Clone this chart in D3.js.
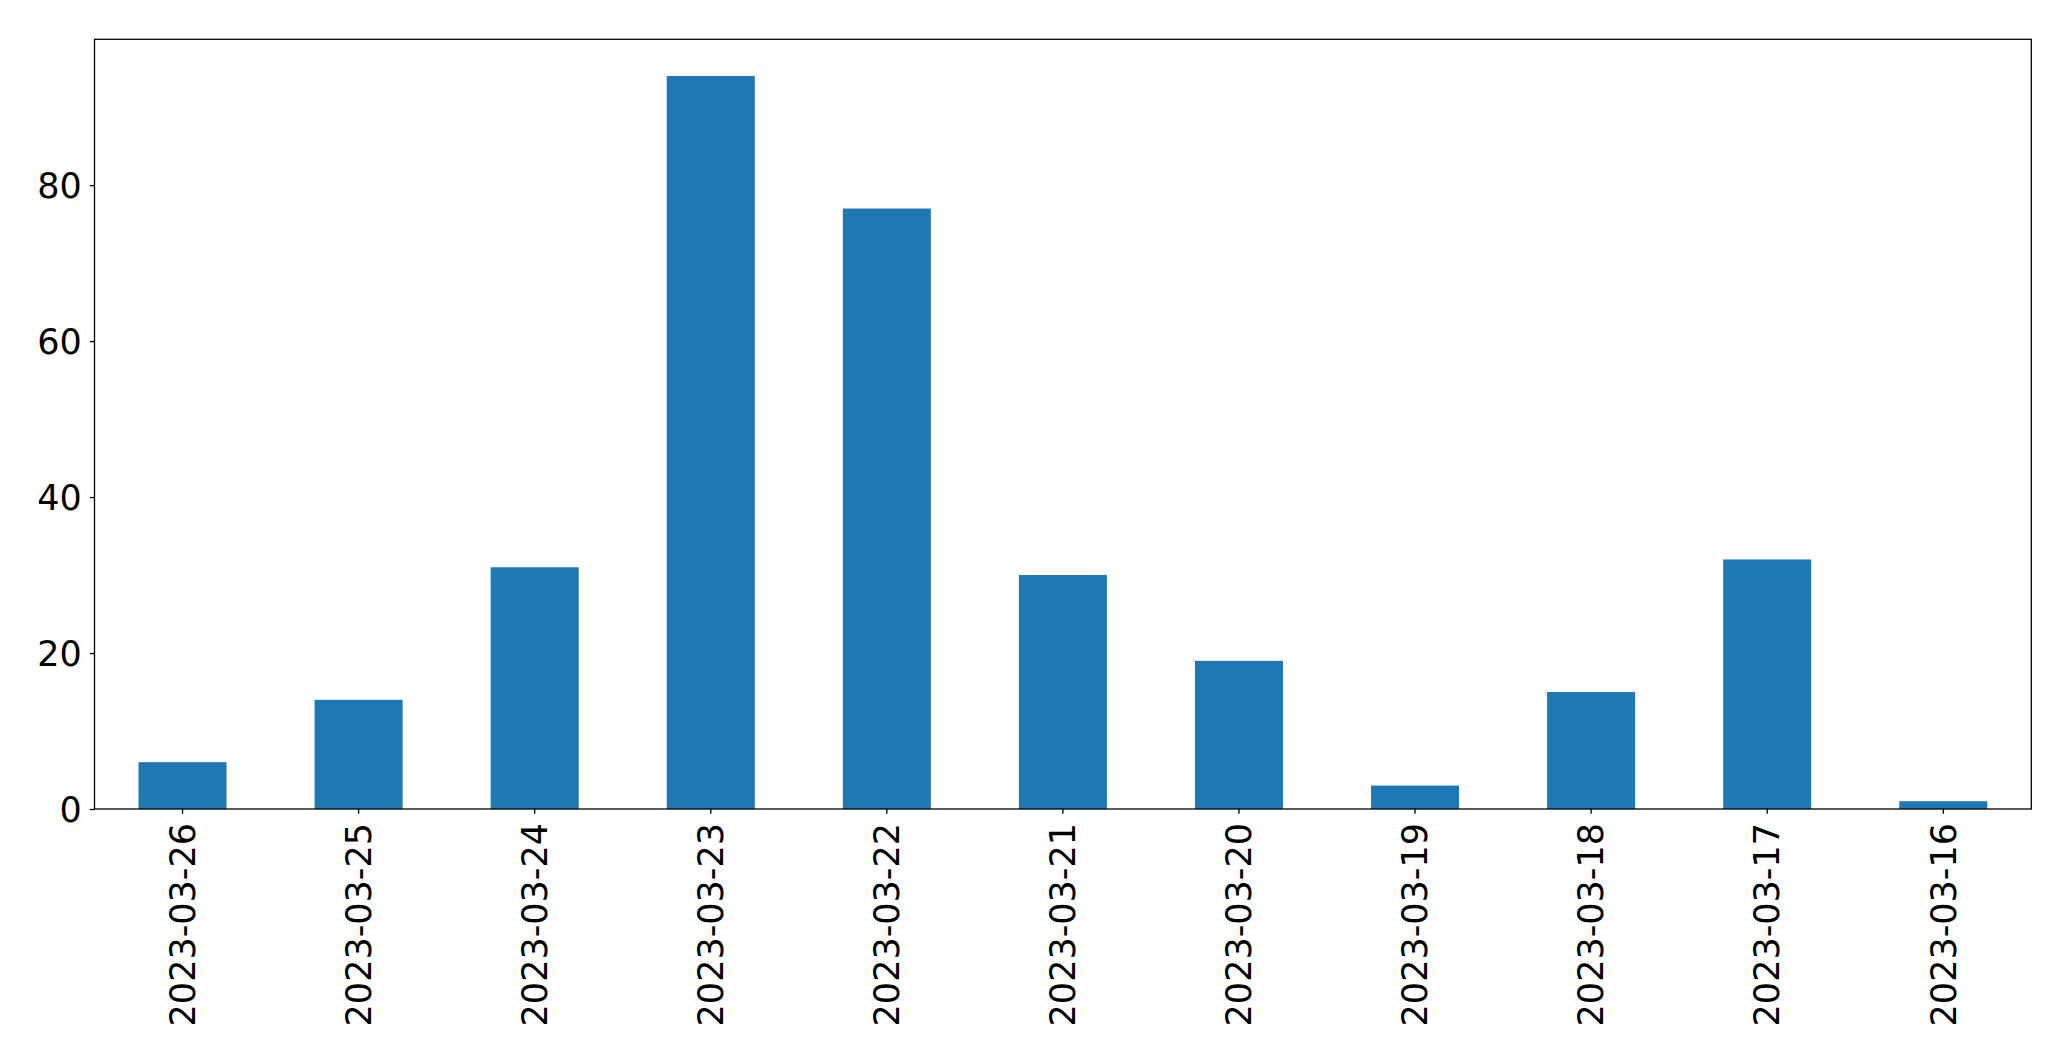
<!DOCTYPE html>
<html><head><meta charset="utf-8">
<script src="https://cdn.jsdelivr.net/npm/d3@7"></script>
<style>html,body{margin:0;padding:0;background:#fff;overflow:hidden}</style>
</head><body>
<svg id="chart" width="2071" height="1061"></svg>
<script>
const categories = ["2023-03-26","2023-03-25","2023-03-24","2023-03-23","2023-03-22","2023-03-21","2023-03-20","2023-03-19","2023-03-18","2023-03-17","2023-03-16"];
const values = [6, 14, 31, 94, 77, 30, 19, 3, 15, 32, 1];
const yTicks = [0, 20, 40, 60, 80];

const margin = {left: 94.5, right: 2071 - 2031.3, top: 39.3, bottom: 1061 - 809};
const W = 2071, H = 1061;
const svg = d3.select("#chart");
const g = svg.append("g").attr("transform", `translate(${margin.left},${margin.top})`);
const iw = W - margin.left - margin.right, ih = H - margin.top - margin.bottom;

const x = d3.scaleBand().domain(categories).range([0, iw]).paddingInner(0.5).paddingOuter(0.25);
const y = d3.scaleLinear().domain([0, d3.max(values) * 1.05]).range([ih, 0]);

g.selectAll("rect.bar").data(values).join("rect")
  .attr("class","bar")
  .attr("x", (d,i) => x(categories[i]))
  .attr("width", x.bandwidth())
  .attr("y", d => y(d))
  .attr("height", d => y(0) - y(d))
  .attr("fill", "#1f77b4");

const font = "DejaVu Sans, sans-serif";
const yAxis = g.append("g").call(d3.axisLeft(y).tickValues(yTicks).tickSize(4.7).tickPadding(8).tickFormat(d3.format("d")));
yAxis.select(".domain").remove();
yAxis.selectAll("text").attr("font-family", font).attr("font-size", 35).attr("fill", "#000").attr("dy", "0.36em");
yAxis.selectAll("line").attr("stroke", "#000").attr("stroke-width", 1.3);

const xAxis = g.append("g").attr("transform", `translate(0,${ih})`).call(d3.axisBottom(x).tickSize(4.7).tickPadding(0));
xAxis.select(".domain").remove();
xAxis.selectAll("line").attr("stroke", "#000").attr("stroke-width", 1.3);
xAxis.selectAll("text")
  .attr("font-family", font).attr("font-size", 35).attr("fill", "#000")
  .attr("text-anchor", "end")
  .attr("transform", "translate(0,14) rotate(-90)")
  .attr("x", 0).attr("y", 0).attr("dy", "0.35em");

g.append("rect").attr("x",0).attr("y",0).attr("width",iw).attr("height",ih)
  .attr("fill","none").attr("stroke","#000").attr("stroke-width",1.3);
</script>
</body></html>
